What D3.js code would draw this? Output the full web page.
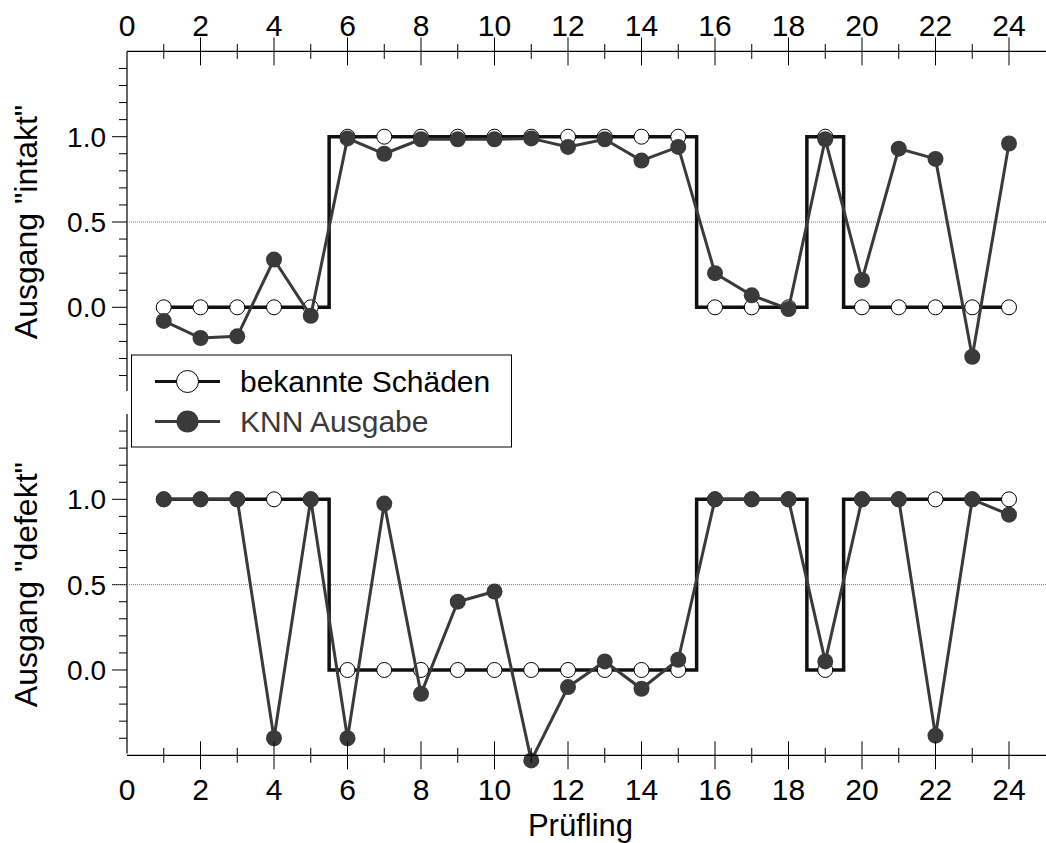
<!DOCTYPE html>
<html>
<head>
<meta charset="utf-8">
<script src="https://cdn.jsdelivr.net/npm/d3@7"></script>
<style>
  body { margin: 0; background: #fff; }
  text { font-family: "Liberation Sans", Arial, sans-serif; }
</style>
</head>
<body>
<div id="chart"></div>
<script>
// Prüfling 1..24
const pruefling = d3.range(1, 25);

// bekannte Schäden (target outputs)
const knownIntakt = [0,0,0,0,0, 1,1,1,1,1,1,1,1,1,1, 0,0,0, 1, 0,0,0,0,0];
const knownDefekt = [1,1,1,1,1, 0,0,0,0,0,0,0,0,0,0, 1,1,1, 0, 1,1,1,1,1];

// KNN Ausgabe (network outputs)
const knnIntakt = [-0.08, -0.18, -0.17, 0.28, -0.05, 0.99, 0.90, 0.985, 0.985, 0.985,
  0.99, 0.94, 0.985, 0.86, 0.94, 0.20, 0.07, -0.01, 0.985, 0.16, 0.93, 0.87, -0.29, 0.96];
const knnDefekt = [1.0, 1.0, 1.0, -0.40, 1.0, -0.40, 0.975, -0.14, 0.40, 0.46,
  -0.53, -0.10, 0.05, -0.11, 0.06, 1.0, 1.0, 1.0, 0.05, 1.0, 1.0, -0.385, 1.0, 0.91];

const xTickLabels = d3.range(0, 25, 2);
const yTickLabels = [0.0, 0.5, 1.0];
const legendLabels = ["bekannte Schäden", "KNN Ausgabe"];

const width = 1046, height = 843;
const stepColor = "#111", knnColor = "#3a3a3a";

const svg = d3.select("#chart").append("svg")
  .attr("width", width)
  .attr("height", height);

const x = d3.scaleLinear().domain([0, 25]).range([127, 127 + 25 * 36.75]);

const panels = [
  { y: d3.scaleLinear().domain([-0.5, 1.5]).range([392.6, 51.4]),
    known: knownIntakt, knn: knnIntakt, title: 'Ausgang "intakt"' },
  { y: d3.scaleLinear().domain([-0.5, 1.5]).range([755.3, 414]),
    known: knownDefekt, knn: knnDefekt, title: 'Ausgang "defekt"' }
];

panels.forEach(p => {
  const g = svg.append("g");
  const y = p.y;

  // left axis with outward ticks
  g.append("line")
    .attr("x1", x(0)).attr("x2", x(0))
    .attr("y1", y(1.5)).attr("y2", y(-0.49))
    .attr("stroke", "#000").attr("stroke-width", 1.2);

  const minor = d3.range(-4, 15).map(d => d / 10);
  g.selectAll(".ytick").data(minor).enter().append("line")
    .attr("x1", d => yTickLabels.some(v => Math.abs(v - d) < 1e-6) ? x(0) - 15 : x(0) - 8)
    .attr("x2", x(0))
    .attr("y1", d => y(d)).attr("y2", d => y(d))
    .attr("stroke", "#000").attr("stroke-width", 1);

  g.selectAll(".ylab").data(yTickLabels).enter().append("text")
    .attr("x", x(0) - 21)
    .attr("y", d => y(d))
    .attr("dy", "0.36em")
    .attr("text-anchor", "end")
    .attr("font-size", 28)
    .text(d => d3.format(".1f")(d));

  // dotted line at 0.5
  g.append("line")
    .attr("x1", x(0) - 14).attr("x2", width)
    .attr("y1", y(0.5)).attr("y2", y(0.5))
    .attr("stroke", "#777").attr("stroke-width", 1)
    .attr("stroke-dasharray", "1,1");

  // axis title
  const yc = (y(1.5) + y(-0.5)) / 2;
  g.append("text")
    .attr("transform", `translate(37,${yc}) rotate(-90)`)
    .attr("text-anchor", "middle")
    .attr("font-size", 32)
    .text(p.title);

  // known: step line
  const stepLine = d3.line()
    .x((d, i) => x(pruefling[i]))
    .y(d => y(d))
    .curve(d3.curveStep);
  g.append("path")
    .attr("d", stepLine(p.known))
    .attr("fill", "none")
    .attr("stroke", stepColor)
    .attr("stroke-width", 3.5);

  g.selectAll(".open").data(p.known).enter().append("circle")
    .attr("cx", (d, i) => x(pruefling[i]))
    .attr("cy", d => y(d))
    .attr("r", 7.5)
    .attr("fill", "#fff")
    .attr("stroke", "#000")
    .attr("stroke-width", 1);

  // KNN output
  const knnLine = d3.line()
    .x((d, i) => x(pruefling[i]))
    .y(d => y(d));
  g.append("path")
    .attr("d", knnLine(p.knn))
    .attr("fill", "none")
    .attr("stroke", knnColor)
    .attr("stroke-width", 3);

  g.selectAll(".filled").data(p.knn).enter().append("circle")
    .attr("cx", (d, i) => x(pruefling[i]))
    .attr("cy", d => y(d))
    .attr("r", 8)
    .attr("fill", knnColor);
});

// x axes (top and bottom), ticks crossing the line
function drawXAxis(yPos, labelY) {
  const g = svg.append("g");
  g.append("line")
    .attr("x1", x(0)).attr("x2", width)
    .attr("y1", yPos).attr("y2", yPos)
    .attr("stroke", "#000").attr("stroke-width", 1.2);
  g.selectAll(".xt").data(d3.range(1, 25)).enter().append("line")
    .attr("x1", d => x(d)).attr("x2", d => x(d))
    .attr("y1", d => yPos - (d % 2 === 0 ? 14 : 7.5))
    .attr("y2", d => yPos + (d % 2 === 0 ? 14 : 7.5))
    .attr("stroke", "#000").attr("stroke-width", 1);
  g.selectAll(".xl").data(xTickLabels).enter().append("text")
    .attr("x", d => x(d))
    .attr("y", labelY)
    .attr("text-anchor", "middle")
    .attr("font-size", 30)
    .text(d => d);
}
drawXAxis(panels[0].y(1.5), 36);
drawXAxis(panels[1].y(-0.5), 800);

svg.append("text")
  .attr("x", (x(0) + width) / 2 - 6)
  .attr("y", 836)
  .attr("text-anchor", "middle")
  .attr("font-size", 31)
  .text("Prüfling");

// legend
const lg = svg.append("g");
lg.append("rect")
  .attr("x", 131.5).attr("y", 355)
  .attr("width", 380).attr("height", 92)
  .attr("fill", "#fff")
  .attr("stroke", "#000").attr("stroke-width", 1);

legendLabels.forEach((label, i) => {
  const cy = 381.5 + i * 40;
  const col = i === 0 ? stepColor : knnColor;
  lg.append("line")
    .attr("x1", 155).attr("x2", 220)
    .attr("y1", cy).attr("y2", cy)
    .attr("stroke", col).attr("stroke-width", 3);
  lg.append("circle")
    .attr("cx", 187.5).attr("cy", cy).attr("r", 11)
    .attr("fill", i === 0 ? "#fff" : knnColor)
    .attr("stroke", i === 0 ? "#000" : "none")
    .attr("stroke-width", 1);
  lg.append("text")
    .attr("x", 240).attr("y", cy)
    .attr("dy", "0.36em")
    .attr("font-size", 30)
    .attr("fill", i === 0 ? "#000" : "#3a3a3a")
    .text(label);
});
</script>
</body>
</html>
